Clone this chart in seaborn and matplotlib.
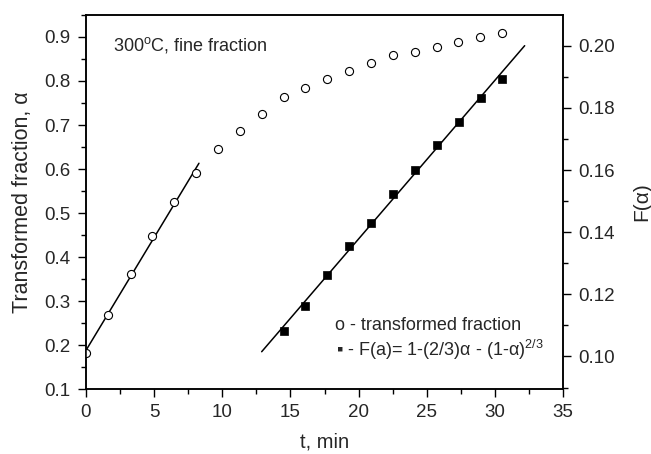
import numpy as np
import pandas as pd
import matplotlib
matplotlib.use("Agg")
import matplotlib.pyplot as plt
from matplotlib.ticker import MultipleLocator
import seaborn as sns

# ---- data ----
t_alpha = [0.0, 1.65, 3.27, 4.87, 6.46, 8.1, 9.7, 11.3, 12.91, 14.5,
           16.1, 17.68, 19.32, 20.91, 22.52, 24.14, 25.72, 27.31, 28.93, 30.52]
alpha = [0.183, 0.268, 0.361, 0.448, 0.524, 0.592, 0.646, 0.687, 0.726, 0.764,
         0.783, 0.805, 0.823, 0.842, 0.858, 0.867, 0.878, 0.889, 0.899, 0.908]
t_F = [14.5, 16.09, 17.66, 19.32, 20.91, 22.55, 24.16, 25.73, 27.34, 28.95, 30.54]
F = [0.1083, 0.1162, 0.1263, 0.1356, 0.1431, 0.1522, 0.1601, 0.1681, 0.1754, 0.1831, 0.1894]
fit1_range = [0.0, 8.29]     # x-extent of fit line on alpha
fit2_range = [12.89, 32.18]  # x-extent of fit line on F
n_fit1 = 6                   # number of alpha points used in the initial linear fit

sns.set_style("ticks")
plt.rcParams['font.family'] = ['Liberation Sans', 'DejaVu Sans']
plt.rcParams['mathtext.fontset'] = 'custom'
plt.rcParams['mathtext.rm'] = 'Liberation Sans'
plt.rcParams['mathtext.it'] = 'Liberation Sans:italic'

fig = plt.figure(figsize=(6.51, 4.54), dpi=100)
ax = fig.add_axes([0.132, 0.143, 0.733, 0.824])
ax2 = ax.twinx()

df_a = pd.DataFrame({"t": t_alpha, "alpha": alpha})
df_f = pd.DataFrame({"t": t_F, "F": F})

# fit lines
p1 = np.polyfit(t_alpha[:n_fit1], alpha[:n_fit1], 1)
x1 = np.array(fit1_range)
ax.plot(x1, np.polyval(p1, x1), color="black", lw=1.1, zorder=2)
p2 = np.polyfit(t_F, F, 1)
x2 = np.array(fit2_range)
ax2.plot(x2, np.polyval(p2, x2), color="black", lw=1.1, zorder=2)

sns.scatterplot(data=df_a, x="t", y="alpha", ax=ax, marker="o", s=34,
                facecolor="white", edgecolor="black", linewidth=0.8, zorder=3)
sns.scatterplot(data=df_f, x="t", y="F", ax=ax2, marker="s", s=30,
                color="black", edgecolor="black", linewidth=0.5, zorder=3)

ax.set_xlim(0, 35)
ax.set_ylim(0.1, 0.95)
ax2.set_ylim(0.0895, 0.2099)

ax.xaxis.set_major_locator(MultipleLocator(5))
ax.xaxis.set_minor_locator(MultipleLocator(2.5))
ax.yaxis.set_minor_locator(MultipleLocator(0.05))
ax2.yaxis.set_minor_locator(MultipleLocator(0.01))
ax.set_yticks(np.arange(0.1, 0.91, 0.1))
ax.set_yticklabels([f"{v:.1f}" for v in np.arange(0.1, 0.91, 0.1)])
ax2.set_yticks(np.arange(0.10, 0.201, 0.02))
ax2.set_yticklabels([f"{v:.2f}" for v in np.arange(0.10, 0.201, 0.02)])

for a in (ax, ax2):
    a.tick_params(which="major", direction="out", length=6, width=1, labelsize=13.5,
                  color="black", pad=5)
    a.tick_params(which="minor", direction="out", length=3.5, width=1, color="black")
    for s in a.spines.values():
        s.set_visible(True)
        s.set_linewidth(1.1)
        s.set_color("black")
ax.tick_params(axis="y", which="both", right=False)
ax2.tick_params(axis="y", which="both", left=False)
ax.tick_params(axis="x", which="both", top=False)

ax.set_xlabel("t, min", fontsize=14.5, labelpad=8)
ax.set_ylabel("Transformed fraction, α", fontsize=15.5, labelpad=8)
ax2.set_ylabel("F(α)", fontsize=15, labelpad=12)

ax.text(0.057, 0.92, "300$^{\\mathrm{o}}$C, fine fraction", transform=ax.transAxes,
        fontsize=13, va="center", ha="left")
ax.text(0.522, 0.171, "o - transformed fraction", transform=ax.transAxes,
        fontsize=13, va="center", ha="left")
ax.text(0.524, 0.105, "▪ - F(a)= 1-(2/3)α - (1-α)$^{2/3}$", transform=ax.transAxes,
        fontsize=13, va="center", ha="left")

fig.savefig("out.png", dpi=100)
